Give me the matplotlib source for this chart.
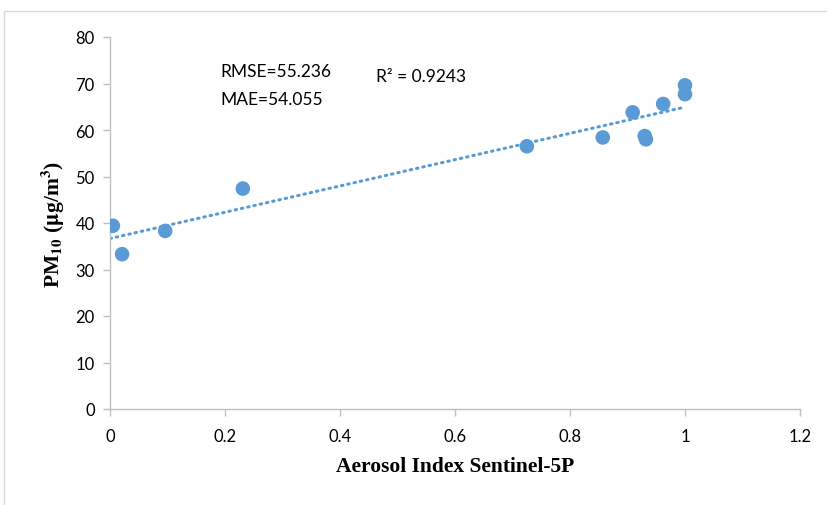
import numpy as np
import matplotlib
matplotlib.use("Agg")
import matplotlib.pyplot as plt
from matplotlib.patches import Rectangle

aerosol_index = [0.005, 0.021, 0.096, 0.231, 0.725, 0.857, 0.909, 0.930, 0.932, 0.962, 1.0, 1.0]
pm10 = [39.4, 33.3, 38.3, 47.4, 56.5, 58.4, 63.8, 58.7, 58.0, 65.6, 69.6, 67.7]
x_ticks = [0, 0.2, 0.4, 0.6, 0.8, 1.0, 1.2]
x_tick_labels = ["0", "0.2", "0.4", "0.6", "0.8", "1", "1.2"]
y_ticks = [0, 10, 20, 30, 40, 50, 60, 70, 80]

plt.rcParams['mathtext.fontset'] = 'stix'

fig = plt.figure(figsize=(8.28, 5.06), dpi=100)
ax = fig.add_axes([110/828, 1-410/506, 690/828, 372/506])

# chart area border
fig.patches.append(Rectangle((4/828, -0.1), 1.2, (1-12/506)+0.1, transform=fig.transFigure,
                             fill=False, edgecolor='#d9d9d9', linewidth=1.0))

c = '#5B9BD5'
ax.scatter(aerosol_index, pm10, s=110, color=c, zorder=3, edgecolors='none')

coef = np.polyfit(aerosol_index, pm10, 1)
xs = np.array([0.0, 1.0])
ax.plot(xs, np.polyval(coef, xs), color=c, linewidth=2.2,
        linestyle=(0, (0.5, 1.6)), dash_capstyle='round', zorder=2)

ax.set_xlim(0, 1.2)
ax.set_ylim(0, 80)
ax.set_xticks(x_ticks)
ax.set_xticklabels(x_tick_labels)
ax.set_yticks(y_ticks)
for s in ['top', 'right']:
    ax.spines[s].set_visible(False)
for s in ['left', 'bottom']:
    ax.spines[s].set_color('#bfbfbf')
    ax.spines[s].set_linewidth(1.0)
ax.tick_params(axis='both', direction='out', length=5, color='#bfbfbf', width=1.0,
               labelsize=12, labelcolor='black')
ax.tick_params(axis='x', pad=9)
ax.tick_params(axis='y', pad=6)
for lab in ax.get_xticklabels() + ax.get_yticklabels():
    lab.set_family(['Lato', 'DejaVu Sans'])

ax.set_xlabel('Aerosol Index Sentinel-5P', fontsize=15.5, fontweight='bold',
              family='Liberation Serif', labelpad=8)
ax.set_ylabel(r'PM$_{\mathbf{10}}$ ($\mathbf{\mu}$g/m$^{\mathbf{3}}$)', fontsize=15.5, fontweight='bold',
              family='Liberation Serif', labelpad=6)

ax.text((220-110)/575, 72.7, 'RMSE=55.236', fontsize=12.5, family='Lato', va='center', ha='left')
ax.text((220-110)/575, 66.7, 'MAE=54.055', fontsize=12.5, family='Lato', va='center', ha='left')
ax.text((376-110)/575, 71.6, 'R² = 0.9243', fontsize=12.5, family='Lato', va='center', ha='left')

fig.savefig('out.png', dpi=100)
